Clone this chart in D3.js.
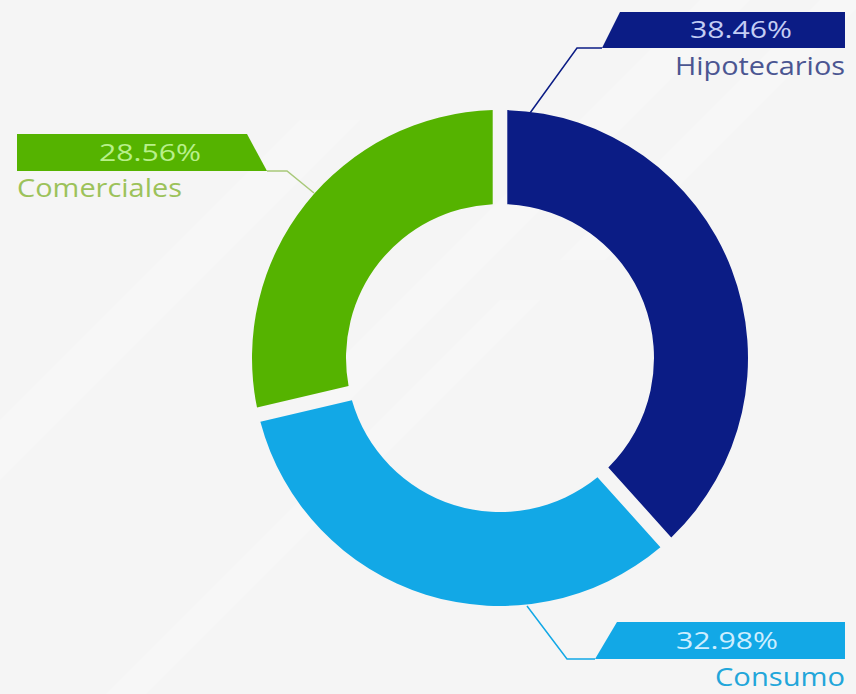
<!DOCTYPE html>
<html><head><meta charset="utf-8">
<script src="https://cdn.jsdelivr.net/npm/d3@7"></script>
<style>html,body{margin:0;padding:0;background:#f6f6f6;}svg{display:block;}</style>
</head><body>
<script>
const categories = ["Hipotecarios", "Consumo", "Comerciales"];
const values = [38.46, 32.98, 28.56];
const valueLabels = ["38.46%", "32.98%", "28.56%"];
const colors = ["#0b1c85", "#12a8e6", "#55b300"];
const valueTextColors = ["#c3cdf4", "#cdeeff", "#b8f08a"];
const nameTextColors = ["#4b5692", "#22a6da", "#9cc25a"];

const W = 856, H = 694;
const cx = 500, cy = 358, rOut = 248, rIn = 154;
const svg = d3.select("body").append("svg").attr("width", W).attr("height", H);

// background with faint diagonal bands
const bg = svg.append("g");
bg.append("rect").attr("width", W).attr("height", H).attr("fill", "#f5f5f5");
const bands = [[-100, 520, 60], [100, 700, 40], [300, 400, 50], [560, 260, 45]];
bands.forEach(b => {
  bg.append("path")
    .attr("d", `M${b[0]},${b[1]} l${b[2]},0 l400,-400 l-${b[2]},0 Z`)
    .attr("fill", "#ffffff").attr("opacity", 0.22);
});

const data = categories.map((c, i) => ({ name: c, value: values[i], label: valueLabels[i], color: colors[i], vc: valueTextColors[i], nc: nameTextColors[i] }));
const pie = d3.pie().sort(null).value(d => d.value).padAngle(0.05);
const arc = d3.arc().innerRadius(rIn).outerRadius(rOut).padRadius(Math.sqrt(rIn * rIn + rOut * rOut));
const arcs = pie(data);

const g = svg.append("g").attr("transform", `translate(${cx},${cy})`);
g.selectAll("path").data(arcs).join("path").attr("d", arc).attr("fill", d => d.data.color);

// label layouts (banner geometry)
const layouts = {
  "Hipotecarios": { x0: 602, x1: 845, y0: 12, y1: 48, slant: 18, side: "right", tx: 741, ty: 38, nameX: 845, nameY: 75, anchor: "end", nameW: 170,
                    line: [[602, 48], [577, 48], [530, 113]] },
  "Consumo": { x0: 595, x1: 845, y0: 622, y1: 659, slant: 22, side: "right", tx: 727, ty: 649, nameX: 845, nameY: 686, anchor: "end", nameW: 130,
               line: [[527, 606], [567, 659], [595, 659]] },
  "Comerciales": { x0: 17, x1: 267, y0: 134, y1: 171, slant: 20, side: "left", tx: 150, ty: 161, nameX: 17, nameY: 197, anchor: "start", nameW: 165,
                   line: [[267, 171], [287, 171], [314, 193]] }
};

const lab = svg.append("g");
arcs.forEach(a => {
  const L = layouts[a.data.name];
  lab.append("path").attr("d", d3.line()(L.line)).attr("fill", "none").attr("stroke", a.data.name === "Comerciales" ? "#a9c97a" : a.data.color).attr("stroke-width", 1.5);
  let pts;
  if (L.side === "right") {
    pts = [[L.x0 + L.slant, L.y0], [L.x1, L.y0], [L.x1, L.y1], [L.x0, L.y1]];
  } else {
    pts = [[L.x0, L.y0], [L.x1 - L.slant, L.y0], [L.x1, L.y1], [L.x0, L.y1]];
  }
  lab.append("path").attr("d", d3.line()(pts) + "Z").attr("fill", a.data.color);
  lab.append("text").attr("x", L.tx).attr("y", L.ty).attr("text-anchor", "middle")
    .attr("font-family", "Open Sans, sans-serif").attr("font-size", 23).attr("fill", a.data.vc)
    .attr("textLength", 102).attr("lengthAdjust", "spacingAndGlyphs")
    .text(a.data.label);
  lab.append("text").attr("x", L.nameX).attr("y", L.nameY).attr("text-anchor", L.anchor)
    .attr("font-family", "Open Sans, sans-serif").attr("font-size", 26).attr("fill", a.data.nc)
    .attr("textLength", L.nameW).attr("lengthAdjust", "spacingAndGlyphs")
    .text(a.data.name);
});
</script>
</body></html>
